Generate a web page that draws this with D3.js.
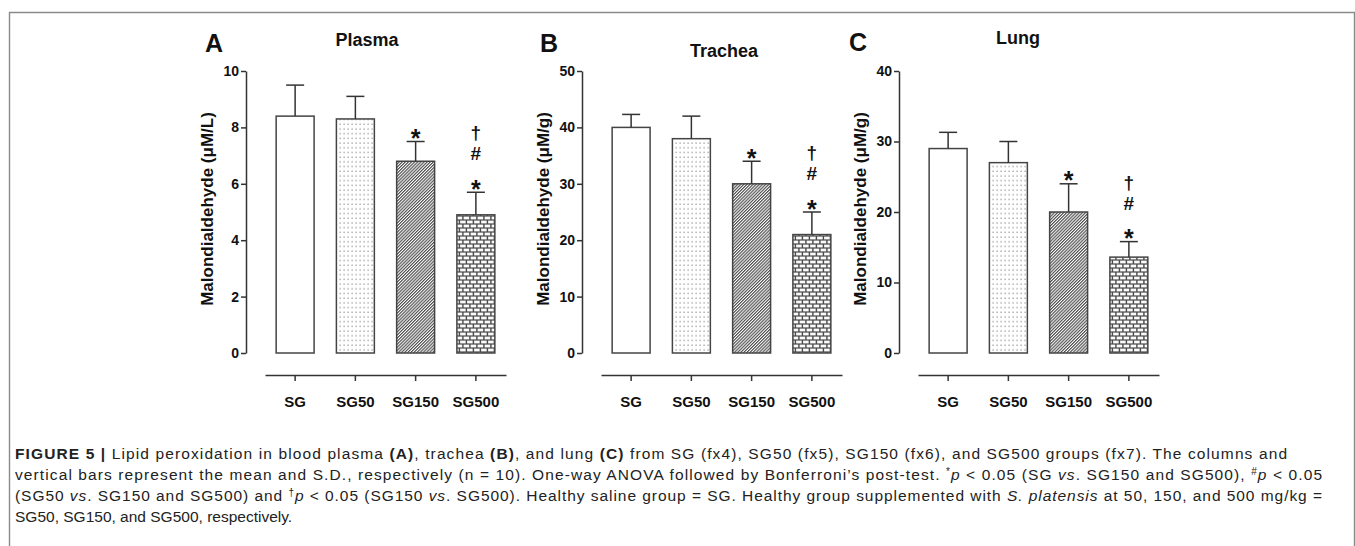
<!DOCTYPE html>
<html>
<head>
<script type="text/javascript" src="https://cdn.jsdelivr.net/npm/d3@7"></script>
<title>Figure 5 - lipid peroxidation</title>
<style>
body { margin:0; background:#fff; }
svg { display:block; font-family:"Liberation Sans", Arial, sans-serif; }
</style>
</head>
<body>
<div id="chart"></div>
<script type="text/javascript">
// groups and values
var groups = ["SG", "SG50", "SG150", "SG500"];
var plasmaMean = [8.4, 8.3, 6.8, 4.9];
var plasmaSD   = [1.1, 0.8, 0.7, 0.8];
var tracheaMean = [40, 38, 30, 21];
var tracheaSD   = [2.3, 4.0, 4.0, 4.0];
var lungMean = [29, 27, 20, 13.6];
var lungSD   = [2.3, 3.0, 4.0, 2.2];
var plasmaTicks  = [0, 2, 4, 6, 8, 10];
var tracheaTicks = [0, 10, 20, 30, 40, 50];
var lungTicks    = [0, 10, 20, 30, 40];
var marks = [[], [], ["*"], ["*", "#", "\u2020"]];

var w = 1355, h = 546;
var y0 = 353, y1 = 71, xAxisY = 375;

var svg = d3.select("#chart").append("svg")
    .attr("width", w).attr("height", h);

svg.append("rect").attr("width", w).attr("height", h).attr("fill", "#fff");

// frame
svg.append("path")
   .attr("d", "M9.5," + (h + 2) + "V12.5H1354.5V" + (h + 2))
   .attr("fill", "none").attr("stroke", "#8a8a8a").attr("stroke-width", 1.4);

// fill patterns
var defs = svg.append("defs");
var dots = defs.append("pattern").attr("id", "dots")
    .attr("patternUnits", "userSpaceOnUse").attr("width", 4).attr("height", 4.7);
dots.append("rect").attr("width", 4).attr("height", 4.7).attr("fill", "#fff");
dots.append("rect").attr("x", 1.5).attr("y", 1.5).attr("width", 1.2).attr("height", 1.2).attr("fill", "#888");

var hatch = defs.append("pattern").attr("id", "hatch")
    .attr("patternUnits", "userSpaceOnUse").attr("width", 2.2).attr("height", 2.2)
    .attr("patternTransform", "rotate(45)");
hatch.append("rect").attr("width", 2.2).attr("height", 2.2).attr("fill", "#fff");
hatch.append("line").attr("x1", 0.6).attr("x2", 0.6).attr("y1", 0).attr("y2", 2.2)
     .attr("stroke", "#3a3a3a").attr("stroke-width", 1.05);

var brick = defs.append("pattern").attr("id", "brick")
    .attr("patternUnits", "userSpaceOnUse").attr("width", 7).attr("height", 8);
brick.append("rect").attr("width", 7).attr("height", 8).attr("fill", "#4a4a4a");
brick.append("rect").attr("x", 0.6).attr("y", 0.6).attr("width", 5.6).attr("height", 2.8).attr("fill", "#fafafa");
brick.append("rect").attr("x", -2.9).attr("y", 4.6).attr("width", 5.6).attr("height", 2.8).attr("fill", "#fafafa");
brick.append("rect").attr("x", 4.1).attr("y", 4.6).attr("width", 5.6).attr("height", 2.8).attr("fill", "#fafafa");

var fills = ["#fff", "url(#dots)", "url(#hatch)", "url(#brick)"];

var panels = [
  {letter: "A", title: "Plasma",  unit: "(\u03bcM/L)", mean: plasmaMean,  sd: plasmaSD,  ticks: plasmaTicks,
   ax: 246, lx: 205, ly: 52, tx: 121, ty: 46},
  {letter: "B", title: "Trachea", unit: "(\u03bcM/g)", mean: tracheaMean, sd: tracheaSD, ticks: tracheaTicks,
   ax: 582, lx: 540, ly: 52, tx: 142, ty: 57},
  {letter: "C", title: "Lung",    unit: "(\u03bcM/g)", mean: lungMean,    sd: lungSD,    ticks: lungTicks,
   ax: 899, lx: 849, ly: 51, tx: 119, ty: 44}
];

// vertical offset of each marker's baseline from the error cap
var markStyle = {
  "*":      {size: 25, dy: 5.6},
  "#":      {size: 19, dy: -32},
  "\u2020": {size: 19, dy: -53}
};

panels.forEach(function(p) {
  var g = svg.append("g").attr("transform", "translate(" + p.ax + ",0)");

  var y = d3.scaleLinear().domain([0, d3.max(p.ticks)]).range([y0, y1]);
  var x = d3.scaleBand().domain(groups).range([19, 260])
      .paddingInner(0.37).paddingOuter(0.185);

  // panel letter and title
  svg.append("text").attr("x", p.lx).attr("y", p.ly)
     .attr("font-size", 25).attr("font-weight", "bold").attr("fill", "#111")
     .text(p.letter);
  g.append("text").attr("x", p.tx).attr("y", p.ty)
   .attr("text-anchor", "middle").attr("font-size", 18).attr("font-weight", "bold")
   .attr("fill", "#111").text(p.title);

  // y axis
  var ya = g.append("g").call(d3.axisLeft(y).tickValues(p.ticks)
        .tickSize(5).tickSizeOuter(0).tickPadding(2));
  ya.selectAll("path, line").attr("stroke", "#333").attr("stroke-width", 1.5);
  ya.selectAll("text").attr("font-size", 14).attr("font-weight", "bold")
    .attr("font-family", "Liberation Sans, Arial, sans-serif").attr("fill", "#111");

  g.append("text")
   .attr("transform", "translate(-33," + ((y0 + y1) / 2 - 3) + ") rotate(-90)")
   .attr("text-anchor", "middle").attr("font-size", 17).attr("font-weight", "bold")
   .attr("fill", "#111").text("Malondialdehyde " + p.unit);

  // x axis (detached, below the bars)
  var xa = g.append("g").attr("transform", "translate(0," + xAxisY + ")")
      .call(d3.axisBottom(x).tickSize(6).tickSizeOuter(0).tickPadding(15));
  xa.selectAll("path, line").attr("stroke", "#333").attr("stroke-width", 1.5);
  xa.selectAll("text").attr("font-size", 15).attr("font-weight", "bold")
    .attr("font-family", "Liberation Sans, Arial, sans-serif").attr("fill", "#111");

  // bars
  g.selectAll("rect.bar").data(groups).enter().append("rect")
   .attr("class", "bar")
   .attr("x", function(d) { return x(d); })
   .attr("y", function(d, i) { return y(p.mean[i]); })
   .attr("width", x.bandwidth())
   .attr("height", function(d, i) { return y0 - y(p.mean[i]); })
   .attr("fill", function(d, i) { return fills[i]; })
   .attr("stroke", "#444").attr("stroke-width", 1.5);

  // error bars (upper half only)
  var eb = g.selectAll("g.err").data(groups).enter().append("g").attr("class", "err");
  eb.append("line")
    .attr("x1", function(d) { return x(d) + x.bandwidth() / 2; })
    .attr("x2", function(d) { return x(d) + x.bandwidth() / 2; })
    .attr("y1", function(d, i) { return y(p.mean[i]); })
    .attr("y2", function(d, i) { return y(p.mean[i] + p.sd[i]); });
  eb.append("line")
    .attr("x1", function(d) { return x(d) + x.bandwidth() / 2 - 9; })
    .attr("x2", function(d) { return x(d) + x.bandwidth() / 2 + 9; })
    .attr("y1", function(d, i) { return y(p.mean[i] + p.sd[i]); })
    .attr("y2", function(d, i) { return y(p.mean[i] + p.sd[i]); });
  eb.selectAll("line").attr("stroke", "#333").attr("stroke-width", 1.5);

  // significance marks
  groups.forEach(function(d, i) {
    var cap = y(p.mean[i] + p.sd[i]);
    marks[i].forEach(function(m) {
      g.append("text")
       .attr("x", x(d) + x.bandwidth() / 2)
       .attr("y", cap + markStyle[m].dy)
       .attr("text-anchor", "middle")
       .attr("font-size", markStyle[m].size).attr("font-weight", "bold")
       .attr("fill", "#111").text(m);
    });
  });
});

// caption
var caption = [
  [["FIGURE 5 | ", "b"], ["Lipid peroxidation in blood plasma "], ["(A)", "b"], [", trachea "], ["(B)", "b"],
   [", and lung "], ["(C)", "b"], [" from SG (fx4), SG50 (fx5), SG150 (fx6), and SG500 groups (fx7). The columns and"]],
  [["vertical bars represent the mean and S.D., respectively (n = 10). One-way ANOVA followed by Bonferroni\u2019s post-test. "],
   ["*", "sup"], ["p", "i"], [" < 0.05 (SG "], ["vs", "i"], [". SG150 and SG500), "], ["#", "sup"], ["p", "i"], [" < 0.05"]],
  [["(SG50 "], ["vs", "i"], [". SG150 and SG500) and "], ["\u2020", "sup"], ["p", "i"], [" < 0.05 (SG150 "], ["vs", "i"],
   [". SG500). Healthy saline group = SG. Healthy group supplemented with "], ["S. platensis", "i"],
   [" at 50, 150, and 500 mg/kg ="]],
  [["SG50, SG150, and SG500, respectively."]]
];
var capEnd = [1287, 1322, 1322, null];

caption.forEach(function(line, li) {
  var t = svg.append("text").attr("x", 15).attr("y", 459 + li * 21)
      .attr("font-size", 15.5).attr("fill", "#222");
  line.forEach(function(s) {
    var ts = t.append("tspan").text(s[0]);
    if (s[1] === "b") ts.attr("font-weight", "bold");
    if (s[1] === "i") ts.attr("font-style", "italic");
    if (s[1] === "sup") ts.attr("font-size", 10).attr("baseline-shift", "super");
  });
  if (capEnd[li]) t.attr("textLength", capEnd[li] - 15).attr("lengthAdjust", "spacing");
});
</script>
</body>
</html>
